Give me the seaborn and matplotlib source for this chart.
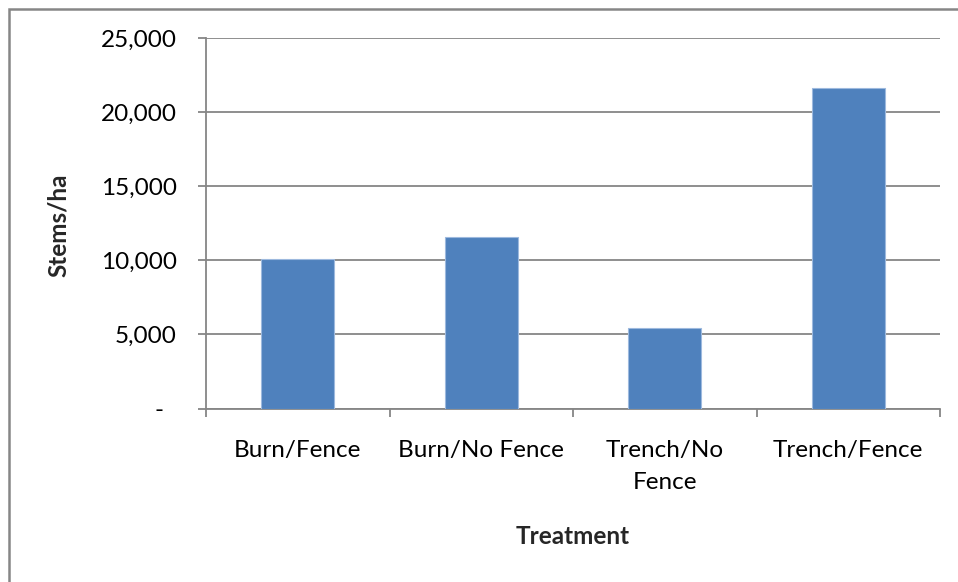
import matplotlib
matplotlib.use("Agg")
import matplotlib.pyplot as plt
import seaborn as sns
import pandas as pd
from matplotlib.patches import Rectangle
from matplotlib.ticker import FuncFormatter, FixedLocator

# Data
treatments = ["Burn/Fence", "Burn/No Fence", "Trench/No\nFence", "Trench/Fence"]
stems_per_ha = [10100, 11600, 5400, 21600]
y_ticks = [0, 5000, 10000, 15000, 20000, 25000]

df = pd.DataFrame({"Treatment": treatments, "Stems/ha": stems_per_ha})

sns.set_style("white")
plt.rcParams["font.family"] = ["Lato", "DejaVu Sans"]

W, H = 958, 582
fig = plt.figure(figsize=(W / 100, H / 100), dpi=100)
ax = fig.add_axes([206 / W, 1 - 408.5 / H, (940 - 206) / W, (408.5 - 38) / H])

grid_col = "#868686"
bar_col = "#4F81BD"
fs = 17.5

sns.barplot(data=df, x="Treatment", y="Stems/ha", color=bar_col, width=0.4,
            edgecolor="#9DB9DE", linewidth=0.8, saturation=1, ax=ax, zorder=3)

ax.set_xlim(-0.5, len(treatments) - 0.5)
ax.set_ylim(0, 25000)
ax.set_yticks(y_ticks)
ax.yaxis.set_major_formatter(FuncFormatter(lambda v, p: "-  " if v == 0 else f"{int(v):,}"))

# gridlines
ax.grid(axis="y", color=grid_col, linewidth=1.3, zorder=0)
ax.grid(axis="x", visible=False)

# spines
for s in ["top", "right"]:
    ax.spines[s].set_visible(False)
for s in ["left", "bottom"]:
    ax.spines[s].set_color(grid_col)
    ax.spines[s].set_linewidth(1.3)

# tick marks between categories on x
ax.xaxis.set_minor_locator(FixedLocator([i - 0.5 for i in range(len(treatments) + 1)]))
ax.tick_params(axis="x", which="major", length=0, pad=23, labelsize=fs, colors="black")
ax.tick_params(axis="x", which="minor", bottom=True, length=6, width=1.3, color=grid_col)
ax.tick_params(axis="y", which="major", left=True, length=6, width=1.3, color=grid_col,
               pad=15, labelsize=fs, labelcolor="black")
for lab in ax.get_xticklabels():
    lab.set_linespacing(1.65)

ax.set_xlabel("")
ax.set_ylabel("")
fig.text(573 / W, 1 - 537 / H, "Treatment", fontsize=fs, fontweight="bold",
         ha="center", va="center")
fig.text(58 / W, 1 - 225 / H, "Stems/ha", fontsize=fs, fontweight="bold",
         ha="center", va="center", rotation=90)

# chart area border, cropped at the right and bottom like the reference
fig.add_artist(Rectangle((8.5 / W, -0.1), 1.2, 1 - 8.5 / H + 0.1,
                         transform=fig.transFigure, fill=False,
                         edgecolor=grid_col, linewidth=1.8))

fig.savefig("out.png", dpi=100, facecolor="white")
